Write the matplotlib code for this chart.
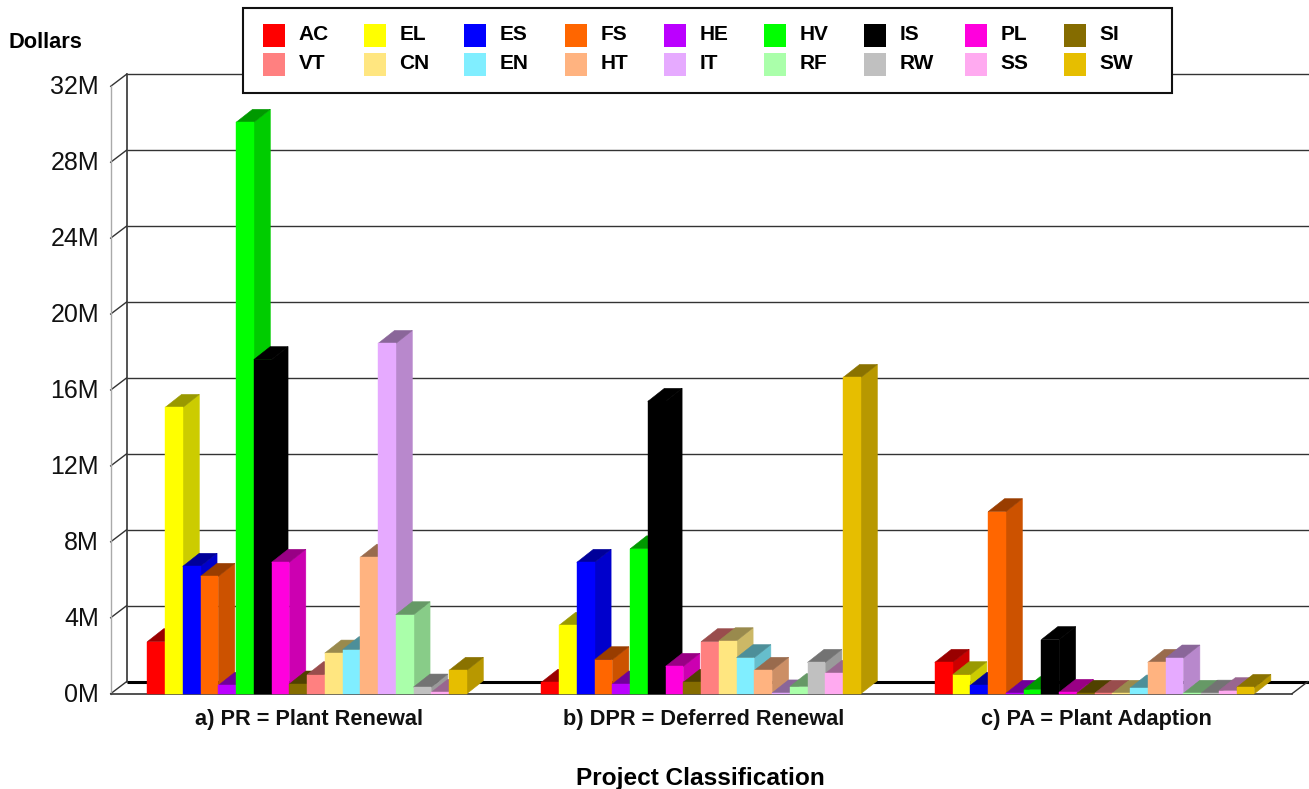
import matplotlib
matplotlib.use('Agg')
import matplotlib.pyplot as plt
from matplotlib.patches import Polygon, Rectangle
from matplotlib.colors import to_rgb
from matplotlib.transforms import ScaledTranslation

plt.rcParams['font.family'] = ['Liberation Sans', 'DejaVu Sans']

# chart values, millions of dollars
series_names = ['AC', 'EL', 'ES', 'FS', 'HE', 'HV', 'IS', 'PL', 'SI',
                'VT', 'CN', 'EN', 'HT', 'IT', 'RF', 'RW', 'SS', 'SW']
group_labels = ['a) PR = Plant Renewal', 'b) DPR = Deferred Renewal', 'c) PA = Plant Adaption']
y_ticks = [0, 4, 8, 12, 16, 20, 24, 28, 32]
y_tick_labels = ['0M', '4M', '8M', '12M', '16M', '20M', '24M', '28M', '32M']

pr_values = [2.74, 15.08, 6.71, 6.18, 0.44, 30.1, 17.6, 6.92, 0.51,
             1.0, 2.14, 2.32, 7.19, 18.45, 4.16, 0.35, 0.07, 1.23]
dpr_values = [0.6, 3.6, 6.92, 1.79, 0.51, 7.63, 15.4, 1.44, 0.6,
              2.74, 2.79, 1.9, 1.23, 0.04, 0.37, 1.65, 1.07, 16.66]
pa_values = [1.65, 1.0, 0.44, 9.59, 0.02, 0.21, 2.85, 0.07, 0.02,
             0.02, 0.02, 0.3, 1.65, 1.88, 0.02, 0.03, 0.16, 0.33]

colors = ['#FF0000', '#FFFF00', '#0000FF', '#FF6600', '#BB00FF', '#00FF00', '#000000', '#FF00DD', '#856C00',
          '#FF8080', '#FFE680', '#80EEFF', '#FFB380', '#E6AAFF', '#AAFFAA', '#C0C0C0', '#FFAAF0', '#E6BE00']

W, H = 1309, 789
slot_px = 17.75
y_px = 18.98  # pixels per million
first_bar = 147.3
left, right = 110.7, 1292.0
base, top = 693.7, 86.3
group_starts = [0, 22.2, 44.37]
# depth of the fake 3d, in data units
bar_dx = 16.5 / slot_px
bar_dy = 13 / y_px
wall_dx = 15.8 / slot_px
wall_dy = 12.0 / y_px


def shade(color, k):
    return tuple(c * k for c in to_rgb(color))


fig = plt.figure(figsize=(W / 100, H / 100), dpi=100)
ax = fig.add_axes([left / W, 1 - base / H, (right - left) / W, (base - top) / H])
x_min = (left - first_bar) / slot_px
x_max = (right - first_bar) / slot_px
ax.set_xlim(x_min, x_max)
ax.set_ylim(0, 32)
for s in ax.spines.values():
    s.set_visible(False)
ax.patch.set_visible(False)

# walls and grid
x_end = x_max + (W - right) / slot_px
for t in y_ticks:
    ax.plot([x_min + wall_dx, x_end], [t + wall_dy, t + wall_dy], color='#000000' if t == 0 else '#333333',
            lw=2.2 if t == 0 else 1.0, clip_on=False, zorder=1, solid_capstyle='butt')
    ax.plot([x_min, x_min + wall_dx], [t, t + wall_dy], color='#333333', lw=1.0, clip_on=False, zorder=1)
ax.plot([x_min + wall_dx] * 2, [wall_dy, 32 + wall_dy], color='#333333', lw=1.2, clip_on=False, zorder=1)
ax.plot([x_min, x_min], [0, 32], color='#aaaaaa', lw=1.0, clip_on=False, zorder=1)
ax.plot([x_min, x_max], [0, 0], color='#333333', lw=1.2, clip_on=False, zorder=1)
ax.plot([x_max, x_max + wall_dx], [0, wall_dy], color='#333333', lw=1.0, clip_on=False, zorder=1)

# bars, left to right so later front faces hide earlier sides
z = 2
for start, values in zip(group_starts, [pr_values, dpr_values, pa_values]):
    for i, v in enumerate(values):
        x0 = start + i
        x1 = x0 + 1
        side = shade(colors[i], 0.8)
        roof = shade(colors[i], 0.6)
        ax.add_patch(Polygon([(x1, 0), (x1 + bar_dx, bar_dy), (x1 + bar_dx, v + bar_dy), (x1, v)],
                             fc=side, ec=side, lw=0.4, clip_on=False, zorder=z))
        ax.add_patch(Polygon([(x0, v), (x0 + bar_dx, v + bar_dy), (x1 + bar_dx, v + bar_dy), (x1, v)],
                             fc=roof, ec=roof, lw=0.4, clip_on=False, zorder=z))
        ax.bar(x0, v, width=1, align='edge', color=colors[i], edgecolor=colors[i], linewidth=0.3,
               clip_on=False, zorder=z + 0.5)
        z += 1

ax.set_yticks(y_ticks)
ax.set_yticklabels(y_tick_labels, fontsize=18, color='#111111')
ax.tick_params(axis='y', length=0, pad=8.5)
for lab in ax.get_yticklabels():
    lab.set_transform(lab.get_transform() + ScaledTranslation(0, 1.5 / 100, fig.dpi_scale_trans))
ax.set_xticks([s + 9 + 0.12 for s in group_starts])
ax.set_xticklabels(group_labels, fontsize=15.7, fontweight='bold', color='#111111')
ax.tick_params(axis='x', length=0, pad=11)

fig.text(9 / W, 1 - 43 / H, 'Dollars', fontsize=15.7, fontweight='bold', va='center', ha='left')
fig.text(700 / W, 1 - 778.5 / H, 'Project Classification', fontsize=17.6, fontweight='bold', va='center', ha='center')

# legend box, drawn in pixel coordinates
leg = fig.add_axes([0, 0, 1, 1], zorder=5)
leg.set_xlim(0, W)
leg.set_ylim(H, 0)
leg.axis('off')
leg.add_patch(Rectangle((243, 8), 929, 85, fc='white', ec='#111111', lw=1.5))
col_x = [263, 364, 464, 565, 664, 764, 864, 965, 1064]
for i, name in enumerate(series_names):
    col = i % 9
    row = i // 9
    y = 24 + row * 29
    leg.add_patch(Rectangle((col_x[col], y), 22, 23, fc=colors[i], ec='none'))
    leg.text(col_x[col] + 35.5, y + 10.5, name, fontsize=15, fontweight='bold', va='center', ha='left')

fig.savefig('out.png', dpi=100)
